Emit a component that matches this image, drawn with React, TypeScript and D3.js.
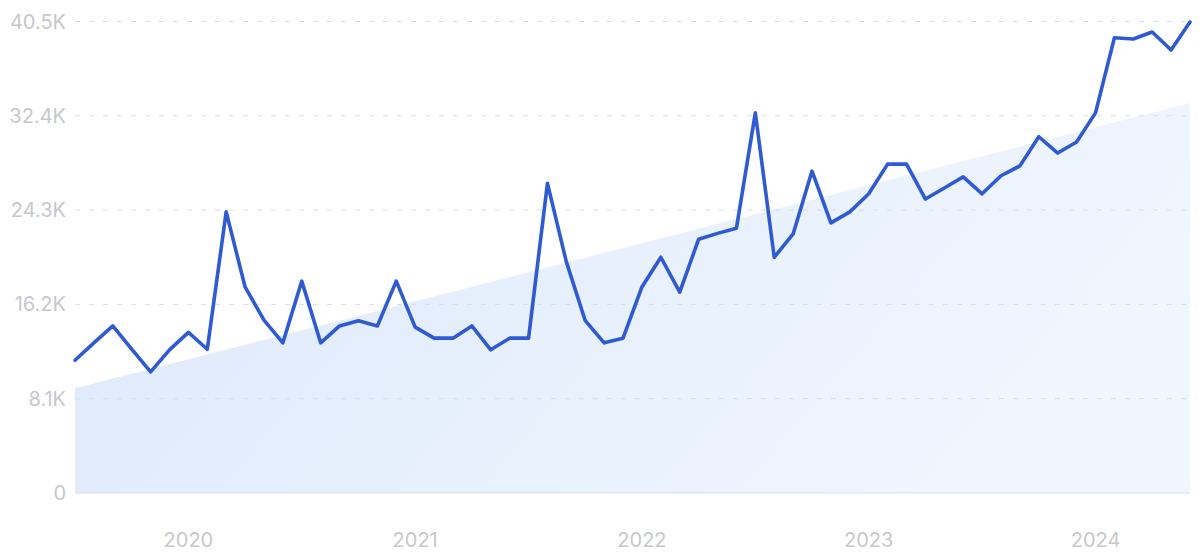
import React from "react";
import * as d3 from "d3";

const months: string[] = [
  "2019-07","2019-08","2019-09","2019-10","2019-11","2019-12",
  "2020-01","2020-02","2020-03","2020-04","2020-05","2020-06","2020-07","2020-08","2020-09","2020-10","2020-11","2020-12",
  "2021-01","2021-02","2021-03","2021-04","2021-05","2021-06","2021-07","2021-08","2021-09","2021-10","2021-11","2021-12",
  "2022-01","2022-02","2022-03","2022-04","2022-05","2022-06","2022-07","2022-08","2022-09","2022-10","2022-11","2022-12",
  "2023-01","2023-02","2023-03","2023-04","2023-05","2023-06","2023-07","2023-08","2023-09","2023-10","2023-11","2023-12",
  "2024-01","2024-02","2024-03","2024-04","2024-05","2024-06",
];

const values: number[] = [
  11400, 12900, 14350, 12350, 10400, 12300,
  13800, 12350, 24150, 17700, 14850, 12900, 18200, 12900, 14350, 14800, 14350, 18200,
  14250, 13300, 13300, 14350, 12300, 13300, 13300, 26600, 19850, 14800, 12900, 13300,
  17700, 20250, 17250, 21800, 22300, 22750, 32650, 20250, 22250, 27650, 23200, 24150,
  25700, 28250, 28250, 25250, 26200, 27150, 25700, 27250, 28100, 30600, 29200, 30150,
  32650, 39100, 39000, 39600, 38050, 40450,
];

// trend area: start and end values
const trendValues: number[] = [9000, 33500];

const yTicks: number[] = [0, 8100, 16200, 24300, 32400, 40500];
const yTickLabels: string[] = ["0", "8.1K", "16.2K", "24.3K", "32.4K", "40.5K"];
const xTickLabels: string[] = ["2020", "2021", "2022", "2023", "2024"];

const W = 1200;
const H = 556;
const left = 75;
const right = 1190;
const top = 21.5;
const bottom = 493;

export default function App() {
  const parse = d3.timeParse("%Y-%m");
  const dates = months.map((m) => parse(m) as Date);
  const x = d3
    .scaleLinear()
    .domain([0, dates.length - 1])
    .range([left, right]);
  const y = d3.scaleLinear().domain([0, 40500]).range([bottom, top]);

  const line = d3
    .line<number>()
    .x((_, i) => x(i))
    .y((d) => y(d));

  const trendArea = d3
    .area<number>()
    .x((_, i) => x(i * (dates.length - 1)))
    .y0(y(0))
    .y1((d) => y(d));

  const yearIdx = xTickLabels.map((lab) =>
    dates.findIndex((d) => d.getFullYear() === +lab && d.getMonth() === 0)
  );

  const font = "Inter, 'Noto Sans', sans-serif";
  const textColor = "#c6c8cd";

  return (
    <svg
      width={W}
      height={H}
      style={{ position: "absolute", left: 0, top: 0, display: "block", background: "#fff" }}
    >
      <defs>
        <linearGradient id="trendGrad" x1="0" y1="0" x2="1" y2="0.3">
          <stop offset="0%" stopColor="#dce8fa" />
          <stop offset="100%" stopColor="#f0f6fe" />
        </linearGradient>
      </defs>

      <path d={trendArea(trendValues) || ""} fill="url(#trendGrad)" />
      <line x1={left} x2={right} y1={y(0)} y2={y(0)} stroke="#cfe0f6" strokeWidth={1.2} />

      {yTicks.map((t, i) =>
        t === 0 ? null : (
          <line
            key={"g" + i}
            x1={left}
            x2={1196}
            y1={y(t)}
            y2={y(t)}
            stroke="#d3ddef"
            strokeWidth={1}
            strokeDasharray="5 9"
          />
        )
      )}

      {yTicks.map((t, i) => (
        <text
          key={"yl" + i}
          x={66}
          y={y(t)}
          textAnchor="end"
          dominantBaseline="central"
          fontFamily={font}
          fontSize={20}
          fill={textColor}
        >
          {yTickLabels[i]}
        </text>
      ))}

      {xTickLabels.map((lab, i) => (
        <text
          key={"xl" + i}
          x={x(yearIdx[i])}
          y={547}
          textAnchor="middle"
          fontFamily={font}
          fontSize={20}
          fill={textColor}
        >
          {lab}
        </text>
      ))}

      <path
        d={line(values) || ""}
        fill="none"
        stroke="#2e5bd3"
        strokeWidth={3.6}
        strokeLinejoin="round"
        strokeLinecap="round"
      />
    </svg>
  );
}
